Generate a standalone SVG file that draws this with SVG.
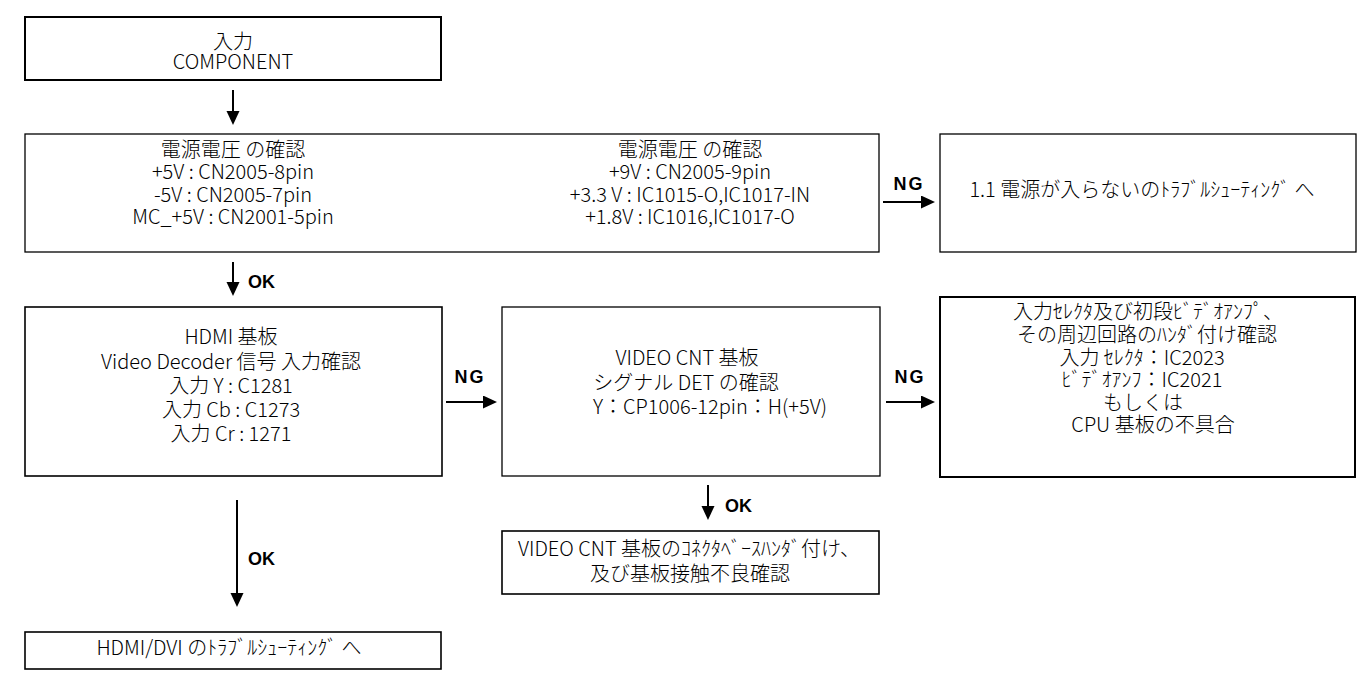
<svg xmlns="http://www.w3.org/2000/svg" width="1366" height="679" viewBox="0 0 1366 679">
<style>
.box{fill:#fff;stroke:#000;stroke-width:1.3}
.thick{stroke-width:2}
.mid{stroke-width:1.6}
.t{font-family:"Noto Sans CJK JP","Noto Sans",sans-serif;font-size:20px;font-weight:300;fill:#000;text-anchor:middle}
.lbl{font-family:"Liberation Sans",Arial,sans-serif;font-size:18px;font-weight:bold;fill:#000}
.ng{letter-spacing:2px;text-anchor:middle}
.arr{stroke:#000;stroke-width:2;fill:none;marker-end:url(#ah)}
</style>
<defs>
<marker id="ah" markerUnits="userSpaceOnUse" markerWidth="15" markerHeight="14" refX="10" refY="6.5" orient="auto">
<path d="M0,0 L14,6.5 L0,13 z" fill="#000"/>
</marker>
</defs>
<rect width="1366" height="679" fill="#fff"/>
<g id="connectors">
<line class="arr" x1="233" y1="90" x2="233" y2="121"/>
<line class="arr" x1="233" y1="262" x2="233" y2="292"/>
<text class="lbl" x="248" y="288">OK</text>
<line class="arr" x1="883" y1="202" x2="931" y2="202"/>
<text class="lbl ng" x="909" y="190">NG</text>
<line class="arr" x1="446" y1="402" x2="493" y2="402"/>
<text class="lbl ng" x="470" y="383">NG</text>
<line class="arr" x1="886" y1="402" x2="931" y2="402"/>
<text class="lbl ng" x="910" y="383">NG</text>
<line class="arr" x1="708" y1="485" x2="708" y2="516"/>
<text class="lbl" x="725" y="512">OK</text>
<line class="arr" x1="237" y1="500" x2="237" y2="603"/>
<text class="lbl" x="248" y="565">OK</text>
</g>
<g id="n1">
<rect class="box thick" x="25" y="17" width="416" height="63"/>
<text class="t" x="233" y="49">入力</text>
<text class="t" x="233" y="69">COMPONENT</text>
</g>
<g id="n2">
<rect class="box" x="25" y="134" width="854" height="118"/>
<text class="t" x="233" y="157">電源電圧 の確認</text>
<text class="t" x="233" y="179">+5V  : CN2005-8pin</text>
<text class="t" x="233" y="201.5">-5V : CN2005-7pin</text>
<text class="t" x="233" y="224">MC_+5V : CN2001-5pin</text>
<text class="t" x="690" y="157">電源電圧 の確認</text>
<text class="t" x="690" y="179">+9V  : CN2005-9pin</text>
<text class="t" x="690" y="201.5">+3.3 V : IC1015-O,IC1017-IN</text>
<text class="t" x="690" y="224">+1.8V : IC1016,IC1017-O</text>
</g>
<g id="n3">
<rect class="box" x="940" y="134" width="416" height="118"/>
<text class="t" x="1142" y="197">1.1 電源が入らないのﾄﾗﾌﾞﾙｼｭｰﾃｨﾝｸﾞ へ</text>
</g>
<g id="n4">
<rect class="box mid" x="25" y="307" width="417" height="169"/>
<text class="t" x="231" y="344">HDMI 基板</text>
<text class="t" x="231" y="369">Video Decoder 信号 入力確認</text>
<text class="t" x="231" y="393">入力 Y : C1281</text>
<text class="t" x="231" y="417">入力 Cb : C1273</text>
<text class="t" x="231" y="441">入力 Cr : 1271</text>
</g>
<g id="n5">
<rect class="box" x="502" y="307" width="378" height="169"/>
<text class="t" x="687" y="365">VIDEO CNT 基板</text>
<text class="t" x="686" y="390">シグナル DET の確認</text>
<text class="t" x="710" y="414">Y：CP1006-12pin：H(+5V)</text>
</g>
<g id="n6">
<rect class="box thick" x="940" y="297" width="415" height="180"/>
<text class="t" x="1148" y="319">入力ｾﾚｸﾀ及び初段ﾋﾞﾃﾞｵｱﾝﾌﾟ、</text>
<text class="t" x="1147" y="342">その周辺回路のﾊﾝﾀﾞ付け確認</text>
<text class="t" x="1142" y="364.5">入力 ｾﾚｸﾀ：IC2023</text>
<text class="t" x="1142" y="387">ﾋﾞﾃﾞｵｱﾝﾌ：IC2021</text>
<text class="t" x="1143" y="409.5">もしくは</text>
<text class="t" x="1153" y="432">CPU 基板の不具合</text>
</g>
<g id="n7">
<rect class="box mid" x="502" y="531" width="377" height="63"/>
<text class="t" x="689" y="556">VIDEO CNT 基板のｺﾈｸﾀﾍﾞｰｽﾊﾝﾀﾞ付け、</text>
<text class="t" x="690" y="581">及び基板接触不良確認</text>
</g>
<g id="n8">
<rect class="box mid" x="25" y="632" width="416" height="37"/>
<text class="t" x="229" y="655">HDMI/DVI のﾄﾗﾌﾞﾙｼｭｰﾃｨﾝｸﾞ へ</text>
</g>
</svg>
